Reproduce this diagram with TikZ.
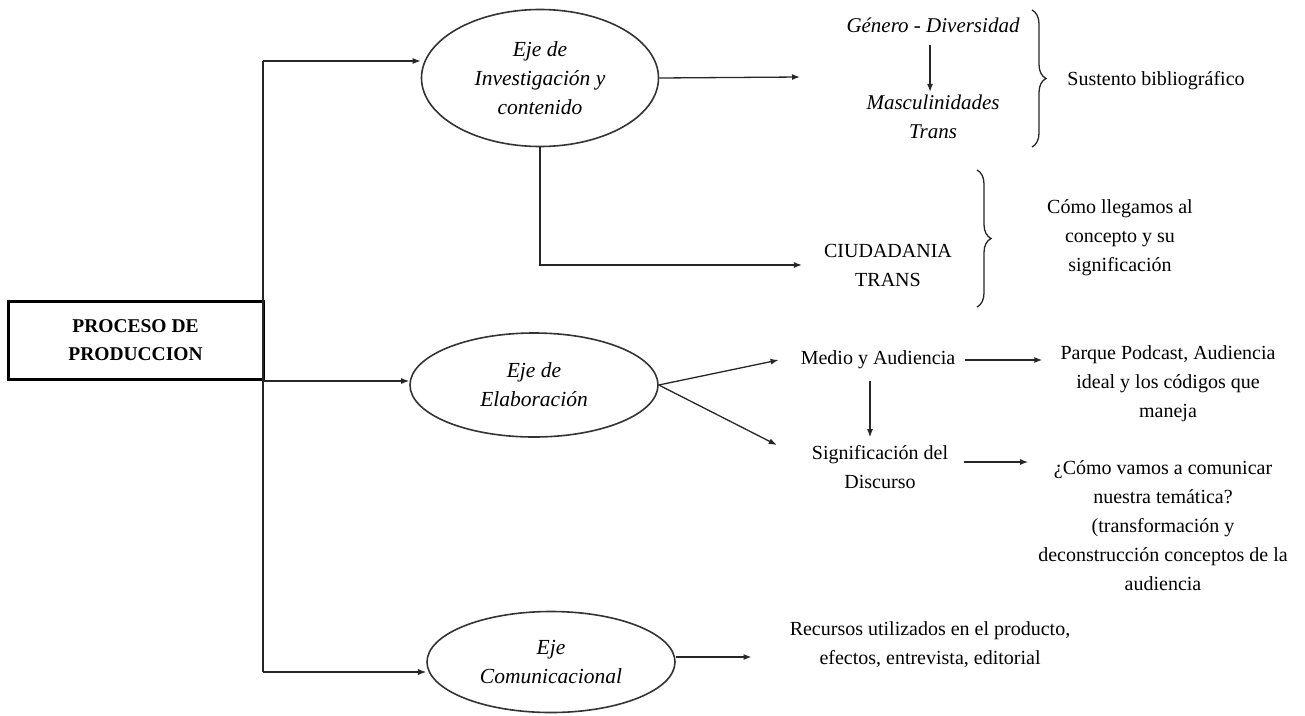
\documentclass[tikz,border=0pt]{standalone}
\usepackage{fontspec}
\setmainfont{Liberation Serif}
\usetikzlibrary{shapes.geometric,arrows.meta,decorations.pathreplacing}
\begin{document}
\begin{tikzpicture}[x=1pt,y=-1pt,
  every node/.style={font=\fontsize{20}{29}\selectfont, align=center, inner sep=0pt},
  ln/.style={line width=1.3pt, draw=black!85},
  arr/.style={ln, -{Latex[length=8pt,width=6pt]}},
  eje/.style={ellipse, draw=black!80, line width=1.6pt, font=\fontsize{21.5}{29}\selectfont\itshape},
  ital/.style={font=\fontsize{21}{29}\selectfont\itshape},
  brc/.style={ln, decorate, decoration={brace, amplitude=14pt}},
]
\useasboundingbox (0,0) rectangle (1305,715);

% main box
\node[draw, line width=3pt, minimum width=255pt, minimum height=78pt,
      font=\fontsize{19.5}{28}\selectfont\bfseries] (box) at (135.5,340) {PROCESO DE\\PRODUCCION};

% ellipses
\node[eje, minimum width=237pt, minimum height=137pt] (e1) at (540,78) {Eje de\\Investigación y\\contenido};
\node[eje, minimum width=248pt, minimum height=104pt] (e2) at (534,385) {Eje de\\Elaboración};
\node[eje, minimum width=248pt, minimum height=101pt] (e3) at (551,662) {Eje\\Comunicacional};

% trunk
\coordinate (t1) at (263,61);
\coordinate (t2) at (263,381);
\coordinate (t3) at (263,672);
\draw[ln] (t1) -- (t3);
\draw[arr] (t1) -- (t1 -| e1.west);
\draw[arr] (t2) -- (t2 -| e2.west);
\draw[arr] (t3) -- (t3 -| e3.west);

% investigacion branch
\node[ital] (gen) at (933,25) {Género - Diversidad};
\node[ital] (masc) at (933,117) {Masculinidades\\Trans};
\draw[arr] ([yshift=-12pt]gen.south -| 930,0) -- ([yshift=3pt]masc.north -| 930,0);
\coordinate (c1) at (800,77);
\draw[arr] (e1.east) -- (c1);
\draw[brc] (1032,10) -- (1032,147);
\node (sus) at (1156,81) {Sustento bibliográfico};

\node (ciu) at (888,265) {CIUDADANIA\\TRANS};
\draw[arr] (e1.south) |- ([xshift=-22pt]ciu.west);
\draw[brc] (977,170) -- (977,307);
\node (como) at (1120,238) {Cómo llegamos al\\concepto y su\\significación};

% elaboracion branch
\node (med) at (878,360) {Medio y Audiencia};
\node (sig) at (880,467) {Significación del\\Discurso};
\draw[arr] (e2.east) -- ([xshift=-22pt]med.west);
\draw[arr] (e2.east) -- ([xshift=-35pt]sig.west |- 0,445);
\draw[arr] ([yshift=-12pt]med.south -| 870,0) -- ([yshift=8pt]sig.north -| 870,0);

\node (parq) at (1168,384) {Parque Podcast, Audiencia\\ideal y los códigos que\\maneja};
\node (cvam) at (1163,526) {¿Cómo vamos a comunicar\\nuestra temática?\\(transformación y\\deconstrucción conceptos de la\\audiencia};
\draw[arr] ([xshift=10pt]med.east) -- ([xshift=-18pt]parq.west |- med.east);
\draw[arr] ([xshift=16pt]sig.east |- 0,462) -- ([xshift=-10pt]cvam.west |- 0,462);

% comunicacional branch
\node (rec) at (930,645) {Recursos utilizados en el producto,\\efectos, entrevista, editorial};
\draw[arr] (e3.east |- 0,657) -- ([xshift=-38pt]rec.west |- 0,657);
\end{tikzpicture}
\end{document}
